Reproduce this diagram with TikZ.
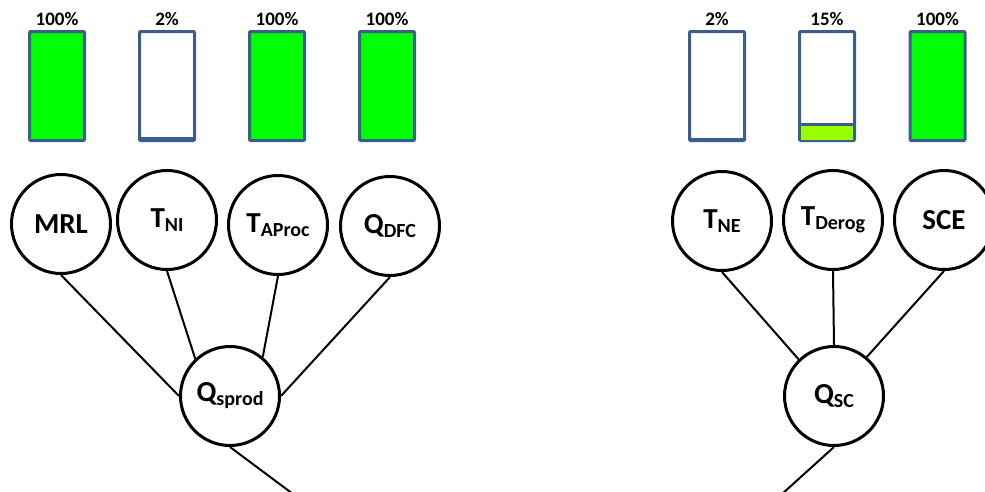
\documentclass[tikz,border=0pt]{standalone}
\usepackage{fontspec}
\setmainfont{Carlito}
\usetikzlibrary{positioning,calc}
\definecolor{barblue}{HTML}{3C5E8E}
\definecolor{fullgreen}{HTML}{00FF00}
\definecolor{partgreen}{HTML}{99FF00}
\newcommand{\subtx}[1]{\raisebox{-4pt}{\fontsize{20}{20}\selectfont #1}}
\tikzset{
  var/.style={circle, draw, line width=3pt, minimum size=99pt, inner sep=0pt,
              font=\fontsize{29}{31}\selectfont\bfseries},
  bar/.style={rectangle, draw=barblue, line width=3pt, rounded corners=1pt,
              minimum width=55pt, minimum height=109pt, inner sep=0pt},
  pct/.style={font=\fontsize{19}{20}\selectfont\bfseries, inner sep=1pt},
  link/.style={line width=2pt},
}
\begin{document}
\begin{tikzpicture}[x=1pt,y=-1pt]
  \useasboundingbox (0,0) rectangle (985,491);
  \node[bar, fill=fullgreen] (bmrl) at (57,86) {};
  \node[bar] (bni) at (167,86) {};
  \node[bar, fill=fullgreen] (bap) at (277,86) {};
  \node[bar, fill=fullgreen] (bdfc) at (387,86) {};
  \node[bar] (bne) at (717,86) {};
  \node[bar] (bder) at (827,86) {};
  \node[bar, fill=fullgreen] (bsce) at (937.5,86) {};
  \fill[barblue] ([xshift=3pt,yshift=2pt]bni.south west) rectangle ([xshift=-3pt,yshift=5.5pt]bni.south east);
  \fill[barblue] ([xshift=3pt,yshift=2pt]bne.south west) rectangle ([xshift=-3pt,yshift=4.5pt]bne.south east);
  \fill[partgreen] ([xshift=3pt,yshift=2pt]bder.south west) rectangle ([xshift=-3pt,yshift=16pt]bder.south east);
  \draw[barblue, line width=3pt] ([xshift=3pt,yshift=17.7pt]bder.south west) -- ([xshift=-3pt,yshift=17.7pt]bder.south east);
  \node[pct, above=3pt of bmrl] {100\%};
  \node[pct, above=3pt of bni] {2\%};
  \node[pct, above=3pt of bap] {100\%};
  \node[pct, above=3pt of bdfc] {100\%};
  \node[pct, above=3pt of bne] {2\%};
  \node[pct, above=3pt of bder] {15\%};
  \node[pct, above=3pt of bsce] {100\%};
  \node[var] (mrl) at (61,224) {MRL};
  \node[var] (tni) at (167,220) {T\subtx{NI}};
  \node[var] (tap) at (278,225) {T\subtx{AProc}};
  \node[var] (qdfc) at (390,226) {Q\subtx{DFC}};
  \node[var] (qsp) at (230,396) {Q\subtx{sprod}};
  \node[var] (tne) at (722,221) {T\subtx{NE}};
  \node[var] (tder) at (833,220) {T\subtx{Derog}};
  \node[var] (sce) at (944,220) {SCE};
  \node[var] (qsc) at (834,396) {Q\subtx{SC}};
  \coordinate (outl) at (293,494);
  \coordinate (outr) at (782,494);
  \draw[link] (mrl.south) -- (qsp.west);
  \draw[link] (tni.south) -- (qsp.133);
  \draw[link] (tap.south) -- (qsp.50);
  \draw[link] (qdfc.south) -- (qsp.east);
  \draw[link] (qsp.south) -- (outl);
  \draw[link] (tne.south) -- (qsc.134);
  \draw[link] (tder.south) -- (qsc.north);
  \draw[link] (sce.south) -- (qsc.50);
  \draw[link] (qsc.south) -- (outr);
\end{tikzpicture}
\end{document}
